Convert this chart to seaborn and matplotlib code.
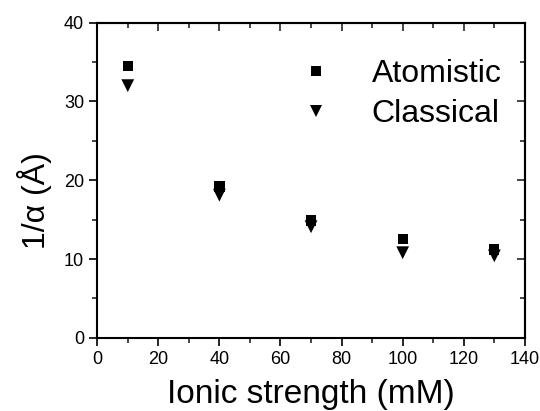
import pandas as pd
import matplotlib.pyplot as plt
import seaborn as sns
from matplotlib.ticker import MultipleLocator

# data
ionic_strength = [10, 40, 70, 100, 130]
atomistic = [34.5, 19.2, 14.9, 12.5, 11.2]
classical = [32.0, 18.1, 14.1, 10.8, 10.4]

df = pd.DataFrame({
    "Ionic": ionic_strength * 2,
    "Value": atomistic + classical,
    "Method": ["Atomistic"] * 5 + ["Classical"] * 5,
})

sns.set_style("ticks")
plt.rcParams['font.family'] = ['Liberation Sans', 'DejaVu Sans']
plt.rcParams['text.color'] = 'black'
plt.rcParams['axes.labelcolor'] = 'black'

fig = plt.figure(figsize=(5.4, 4.11), dpi=100)
ax = fig.add_axes([0.18, 0.178, 0.792, 0.767])

sns.scatterplot(data=df, x="Ionic", y="Value", style="Method", size="Method",
                markers={"Atomistic": "s", "Classical": "v"},
                sizes={"Atomistic": 55, "Classical": 85},
                color="black", edgecolor="black", linewidth=0,
                ax=ax, legend=True)

ax.set_xlim(0, 140)
ax.set_ylim(0, 40)
ax.xaxis.set_major_locator(MultipleLocator(20))
ax.xaxis.set_minor_locator(MultipleLocator(10))
ax.yaxis.set_major_locator(MultipleLocator(10))
ax.yaxis.set_minor_locator(MultipleLocator(5))
ax.tick_params(which='major', direction='out', length=6, width=1.2, labelsize=13, colors='black')
ax.tick_params(which='minor', direction='out', length=3.5, width=1.2)
for s in ax.spines.values():
    s.set_visible(True)
    s.set_linewidth(1.5)
    s.set_color('black')

# mirrored inward ticks on top and right
top = ax.secondary_xaxis('top')
top.xaxis.set_major_locator(MultipleLocator(20))
top.xaxis.set_minor_locator(MultipleLocator(10))
top.tick_params(which='both', direction='in', labeltop=False, width=1.2)
top.tick_params(which='major', length=6)
top.tick_params(which='minor', length=3.5)
right = ax.secondary_yaxis('right')
right.yaxis.set_major_locator(MultipleLocator(10))
right.yaxis.set_minor_locator(MultipleLocator(5))
right.tick_params(which='both', direction='in', labelright=False, width=1.2)
right.tick_params(which='major', length=6)
right.tick_params(which='minor', length=3.5)
for sec in (top, right):
    for s in sec.spines.values():
        s.set_linewidth(1.5)

ax.set_xlabel("Ionic strength (mM)", fontsize=24, labelpad=8, color='black')
ax.set_ylabel("1/α (Å)", fontsize=23, color='black')
ax.yaxis.set_label_coords(-0.105, 0.435)

handles, labels = ax.get_legend_handles_labels()
ax.legend(handles, labels, loc='upper left', bbox_to_anchor=(0.455, 0.885),
          frameon=False, fontsize=23, borderaxespad=0, borderpad=0,
          handlelength=1.5, handletextpad=1.0, labelspacing=0.32,
          markerscale=1.0, labelcolor='black')

fig.savefig("out.png", dpi=100)
